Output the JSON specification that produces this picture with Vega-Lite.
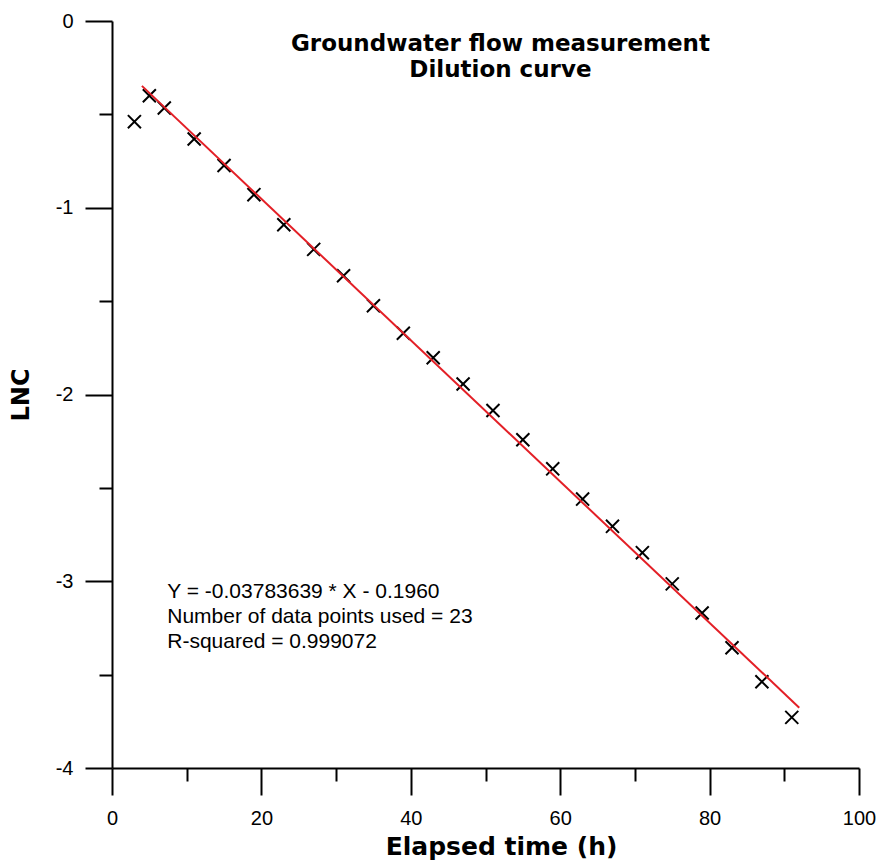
{
  "$schema": "https://vega.github.io/schema/vega-lite/v6.json",
  "width": 747,
  "height": 747,
  "autosize": {"type": "none"},
  "padding": {"left": 112, "top": 21, "right": 19, "bottom": 94},
  "background": "white",
  "config": {
    "view": {"stroke": null},
    "font": "Liberation Sans",
    "axis": {
      "grid": false,
      "domainColor": "black",
      "domainWidth": 2,
      "tickColor": "black",
      "tickWidth": 2,
      "labelColor": "black",
      "labelFont": "Liberation Sans",
      "labelFontSize": 20,
      "labelFlush": false,
      "labelOverlap": false,
      "titleColor": "black",
      "titleFont": "DejaVu Sans",
      "titleFontSize": 24,
      "titleFontWeight": "bold"
    }
  },
  "layer": [
    {
      "data": {"values": [
        {"t": 3, "lnc": -0.539},
        {"t": 5, "lnc": -0.400},
        {"t": 7, "lnc": -0.466},
        {"t": 11, "lnc": -0.632},
        {"t": 15, "lnc": -0.774},
        {"t": 19, "lnc": -0.930},
        {"t": 23, "lnc": -1.091},
        {"t": 27, "lnc": -1.223},
        {"t": 31, "lnc": -1.364},
        {"t": 35, "lnc": -1.525},
        {"t": 39, "lnc": -1.672},
        {"t": 43, "lnc": -1.803},
        {"t": 47, "lnc": -1.944},
        {"t": 51, "lnc": -2.086},
        {"t": 55, "lnc": -2.242},
        {"t": 59, "lnc": -2.398},
        {"t": 63, "lnc": -2.560},
        {"t": 67, "lnc": -2.706},
        {"t": 71, "lnc": -2.847},
        {"t": 75, "lnc": -3.014},
        {"t": 79, "lnc": -3.170},
        {"t": 83, "lnc": -3.356},
        {"t": 87, "lnc": -3.538},
        {"t": 91, "lnc": -3.729}
      ]},
      "mark": {"type": "point", "shape": "M-1,-1L1,1M-1,1L1,-1", "filled": false, "stroke": "black", "strokeWidth": 2, "size": 170, "opacity": 1},
      "encoding": {
        "x": {"field": "t", "type": "quantitative", "scale": {"domain": [0, 100], "nice": false, "zero": false},
          "axis": {"orient": "bottom", "values": [0, 20, 40, 60, 80, 100], "tickSize": 27, "labelPadding": 13, "labelExpr": "datum.value + ''", "title": "Elapsed time (h)", "titleFontSize": 25, "titlePadding": 6, "titleX": 389}},
        "y": {"field": "lnc", "type": "quantitative", "scale": {"domain": [-4, 0], "nice": false, "zero": false},
          "axis": {"orient": "left", "values": [-4, -3, -2, -1, 0], "tickSize": 27, "labelPadding": 12, "labelExpr": "datum.value + ''", "title": "LNC", "titlePadding": 22}}
      }
    },
    {
      "data": {"values": [
        {"t": 4, "lnc": -0.3473},
        {"t": 92, "lnc": -3.6770}
      ]},
      "mark": {"type": "line", "color": "#e31f26", "strokeWidth": 2},
      "encoding": {
        "x": {"field": "t", "type": "quantitative", "scale": {"domain": [0, 100], "nice": false, "zero": false},
          "axis": {"orient": "bottom", "values": [10, 30, 50, 70, 90], "tickSize": 13, "labels": false, "domain": false, "title": null}},
        "y": {"field": "lnc", "type": "quantitative", "scale": {"domain": [-4, 0], "nice": false, "zero": false},
          "axis": {"orient": "left", "values": [-3.5, -2.5, -1.5, -0.5], "tickSize": 13, "labels": false, "domain": false, "title": null}}
      }
    },
    {
      "data": {"values": [{"label": "title"}]},
      "mark": {"type": "text", "text": ["Groundwater flow measurement", "Dilution curve"], "font": "DejaVu Sans", "fontSize": 23, "fontWeight": "bold", "align": "center", "baseline": "alphabetic", "lineHeight": 26, "color": "black"},
      "encoding": {
        "x": {"datum": 52, "type": "quantitative", "axis": null},
        "y": {"datum": -0.16, "type": "quantitative", "axis": null}
      }
    },
    {
      "data": {"values": [{"label": "equation"}]},
      "mark": {"type": "text", "text": ["Y = -0.03783639 * X - 0.1960", "Number of data points used = 23", "R-squared = 0.999072"], "font": "Liberation Sans", "fontSize": 21, "align": "left", "baseline": "alphabetic", "lineHeight": 25, "color": "black"},
      "encoding": {
        "x": {"datum": 7.4, "type": "quantitative", "axis": null},
        "y": {"datum": -3.09, "type": "quantitative", "axis": null}
      }
    }
  ],
  "resolve": {"axis": {"x": "independent", "y": "independent"}}
}
